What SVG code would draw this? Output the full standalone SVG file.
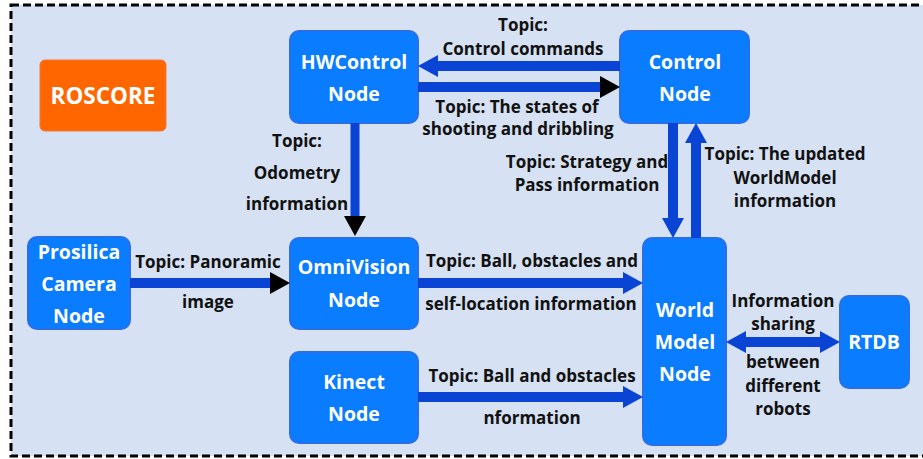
<svg xmlns="http://www.w3.org/2000/svg" width="923" height="459" viewBox="0 0 923 459">
<style>
.node{fill:#0A7CFF;stroke:#2A6FE8;stroke-width:2}
.nt{font-family:"Open Sans","Liberation Sans",sans-serif;font-weight:bold;font-size:19.5px;fill:#fff;text-anchor:middle}
.lb{font-family:"Open Sans","Liberation Sans",sans-serif;font-weight:bold;font-size:17px;fill:#111;text-anchor:middle}
.ln{stroke:#0A44D4;stroke-width:10;fill:none}
.ln9{stroke:#0A44D4;stroke-width:9;fill:none}
</style>
<defs>
<marker id="hb" viewBox="0 0 20 22" refX="0" refY="11" markerWidth="20" markerHeight="22" markerUnits="userSpaceOnUse" orient="auto-start-reverse"><path d="M0,0 L20,11 L0,22 z" fill="#0A44D4"/></marker>
<marker id="hk" viewBox="0 0 20 22" refX="0" refY="11" markerWidth="20" markerHeight="22" markerUnits="userSpaceOnUse" orient="auto"><path d="M0,0 L20,11 L0,22 z" fill="#000"/></marker>
</defs>
<rect x="11" y="5" width="930" height="451" fill="#D6E1F3" stroke="#000" stroke-width="3" stroke-dasharray="8,4"/>

<g id="roscore"><rect x="40" y="60" width="126" height="71" rx="5" fill="#FF6600" stroke="#F07A3A" stroke-width="1"/><text class="nt" x="103" y="104" style="font-size:22.5px">ROSCORE</text></g>
<g id="hwcontrol"><rect class="node" x="290" y="31" width="128" height="92" rx="9"/><text class="nt" x="354" y="69">HWControl</text><text class="nt" x="354" y="101">Node</text></g>
<g id="control"><rect class="node" x="620" y="31" width="129" height="92" rx="9"/><text class="nt" x="685" y="69">Control</text><text class="nt" x="685" y="101">Node</text></g>
<g id="prosilica"><rect class="node" x="28" y="237" width="102" height="92" rx="9"/><text class="nt" x="79" y="259">Prosilica</text><text class="nt" x="79" y="291">Camera</text><text class="nt" x="79" y="323">Node</text></g>
<g id="omnivision"><rect class="node" x="290" y="238" width="128" height="91" rx="9"/><text class="nt" x="354" y="274">OmniVision</text><text class="nt" x="354" y="307">Node</text></g>
<g id="kinect"><rect class="node" x="290" y="352" width="128" height="91" rx="9"/><text class="nt" x="354" y="389">Kinect</text><text class="nt" x="354" y="421">Node</text></g>
<g id="worldmodel"><rect class="node" x="643" y="238" width="83" height="207" rx="9"/><text class="nt" x="685" y="317">World</text><text class="nt" x="685" y="349">Model</text><text class="nt" x="685" y="381">Node</text></g>
<g id="rtdb"><rect class="node" x="840" y="296" width="69" height="92" rx="9"/><text class="nt" x="874" y="349">RTDB</text></g>

<g id="connectors">
<line class="ln" x1="620" y1="66" x2="438" y2="66" marker-end="url(#hb)"/>
<line class="ln" x1="418" y1="87" x2="600" y2="87" marker-end="url(#hk)"/>
<line class="ln9" x1="355" y1="123" x2="355" y2="216" marker-end="url(#hk)"/>
<line class="ln" x1="130" y1="283" x2="270" y2="283" marker-end="url(#hk)"/>
<line class="ln" x1="418" y1="283" x2="623" y2="283" marker-end="url(#hb)"/>
<line class="ln" x1="418" y1="397" x2="623" y2="397" marker-end="url(#hb)"/>
<line class="ln" x1="673" y1="123" x2="673" y2="218" marker-end="url(#hb)"/>
<line class="ln" x1="696" y1="238" x2="696" y2="143" marker-end="url(#hb)"/>
<line class="ln" x1="746" y1="342" x2="820" y2="342" marker-start="url(#hb)" marker-end="url(#hb)"/>
</g>

<g id="labels">
<text class="lb" x="523" y="31">Topic:</text>
<text class="lb" x="523" y="55">Control commands</text>
<text class="lb" x="517" y="113">Topic: The states of</text>
<text class="lb" x="518" y="135">shooting and dribbling</text>
<text class="lb" x="297" y="147">Topic:</text>
<text class="lb" x="297" y="179">Odometry</text>
<text class="lb" x="297" y="210">information</text>
<text class="lb" x="587" y="168">Topic: Strategy and</text>
<text class="lb" x="587" y="191">Pass information</text>
<text class="lb" x="785" y="160">Topic: The updated</text>
<text class="lb" x="785" y="184">WorldModel</text>
<text class="lb" x="785" y="207">information</text>
<text class="lb" x="208" y="268">Topic: Panoramic</text>
<text class="lb" x="208" y="308">image</text>
<text class="lb" x="532" y="267">Topic: Ball, obstacles and</text>
<text class="lb" x="531" y="310">self-location information</text>
<text class="lb" x="532" y="382">Topic: Ball and obstacles</text>
<text class="lb" x="532" y="424">nformation</text>
<text class="lb" x="783" y="307">Information</text>
<text class="lb" x="783" y="330">sharing</text>
<text class="lb" x="783" y="368">between</text>
<text class="lb" x="783" y="392">different</text>
<text class="lb" x="783" y="415">robots</text>
</g>
</svg>
